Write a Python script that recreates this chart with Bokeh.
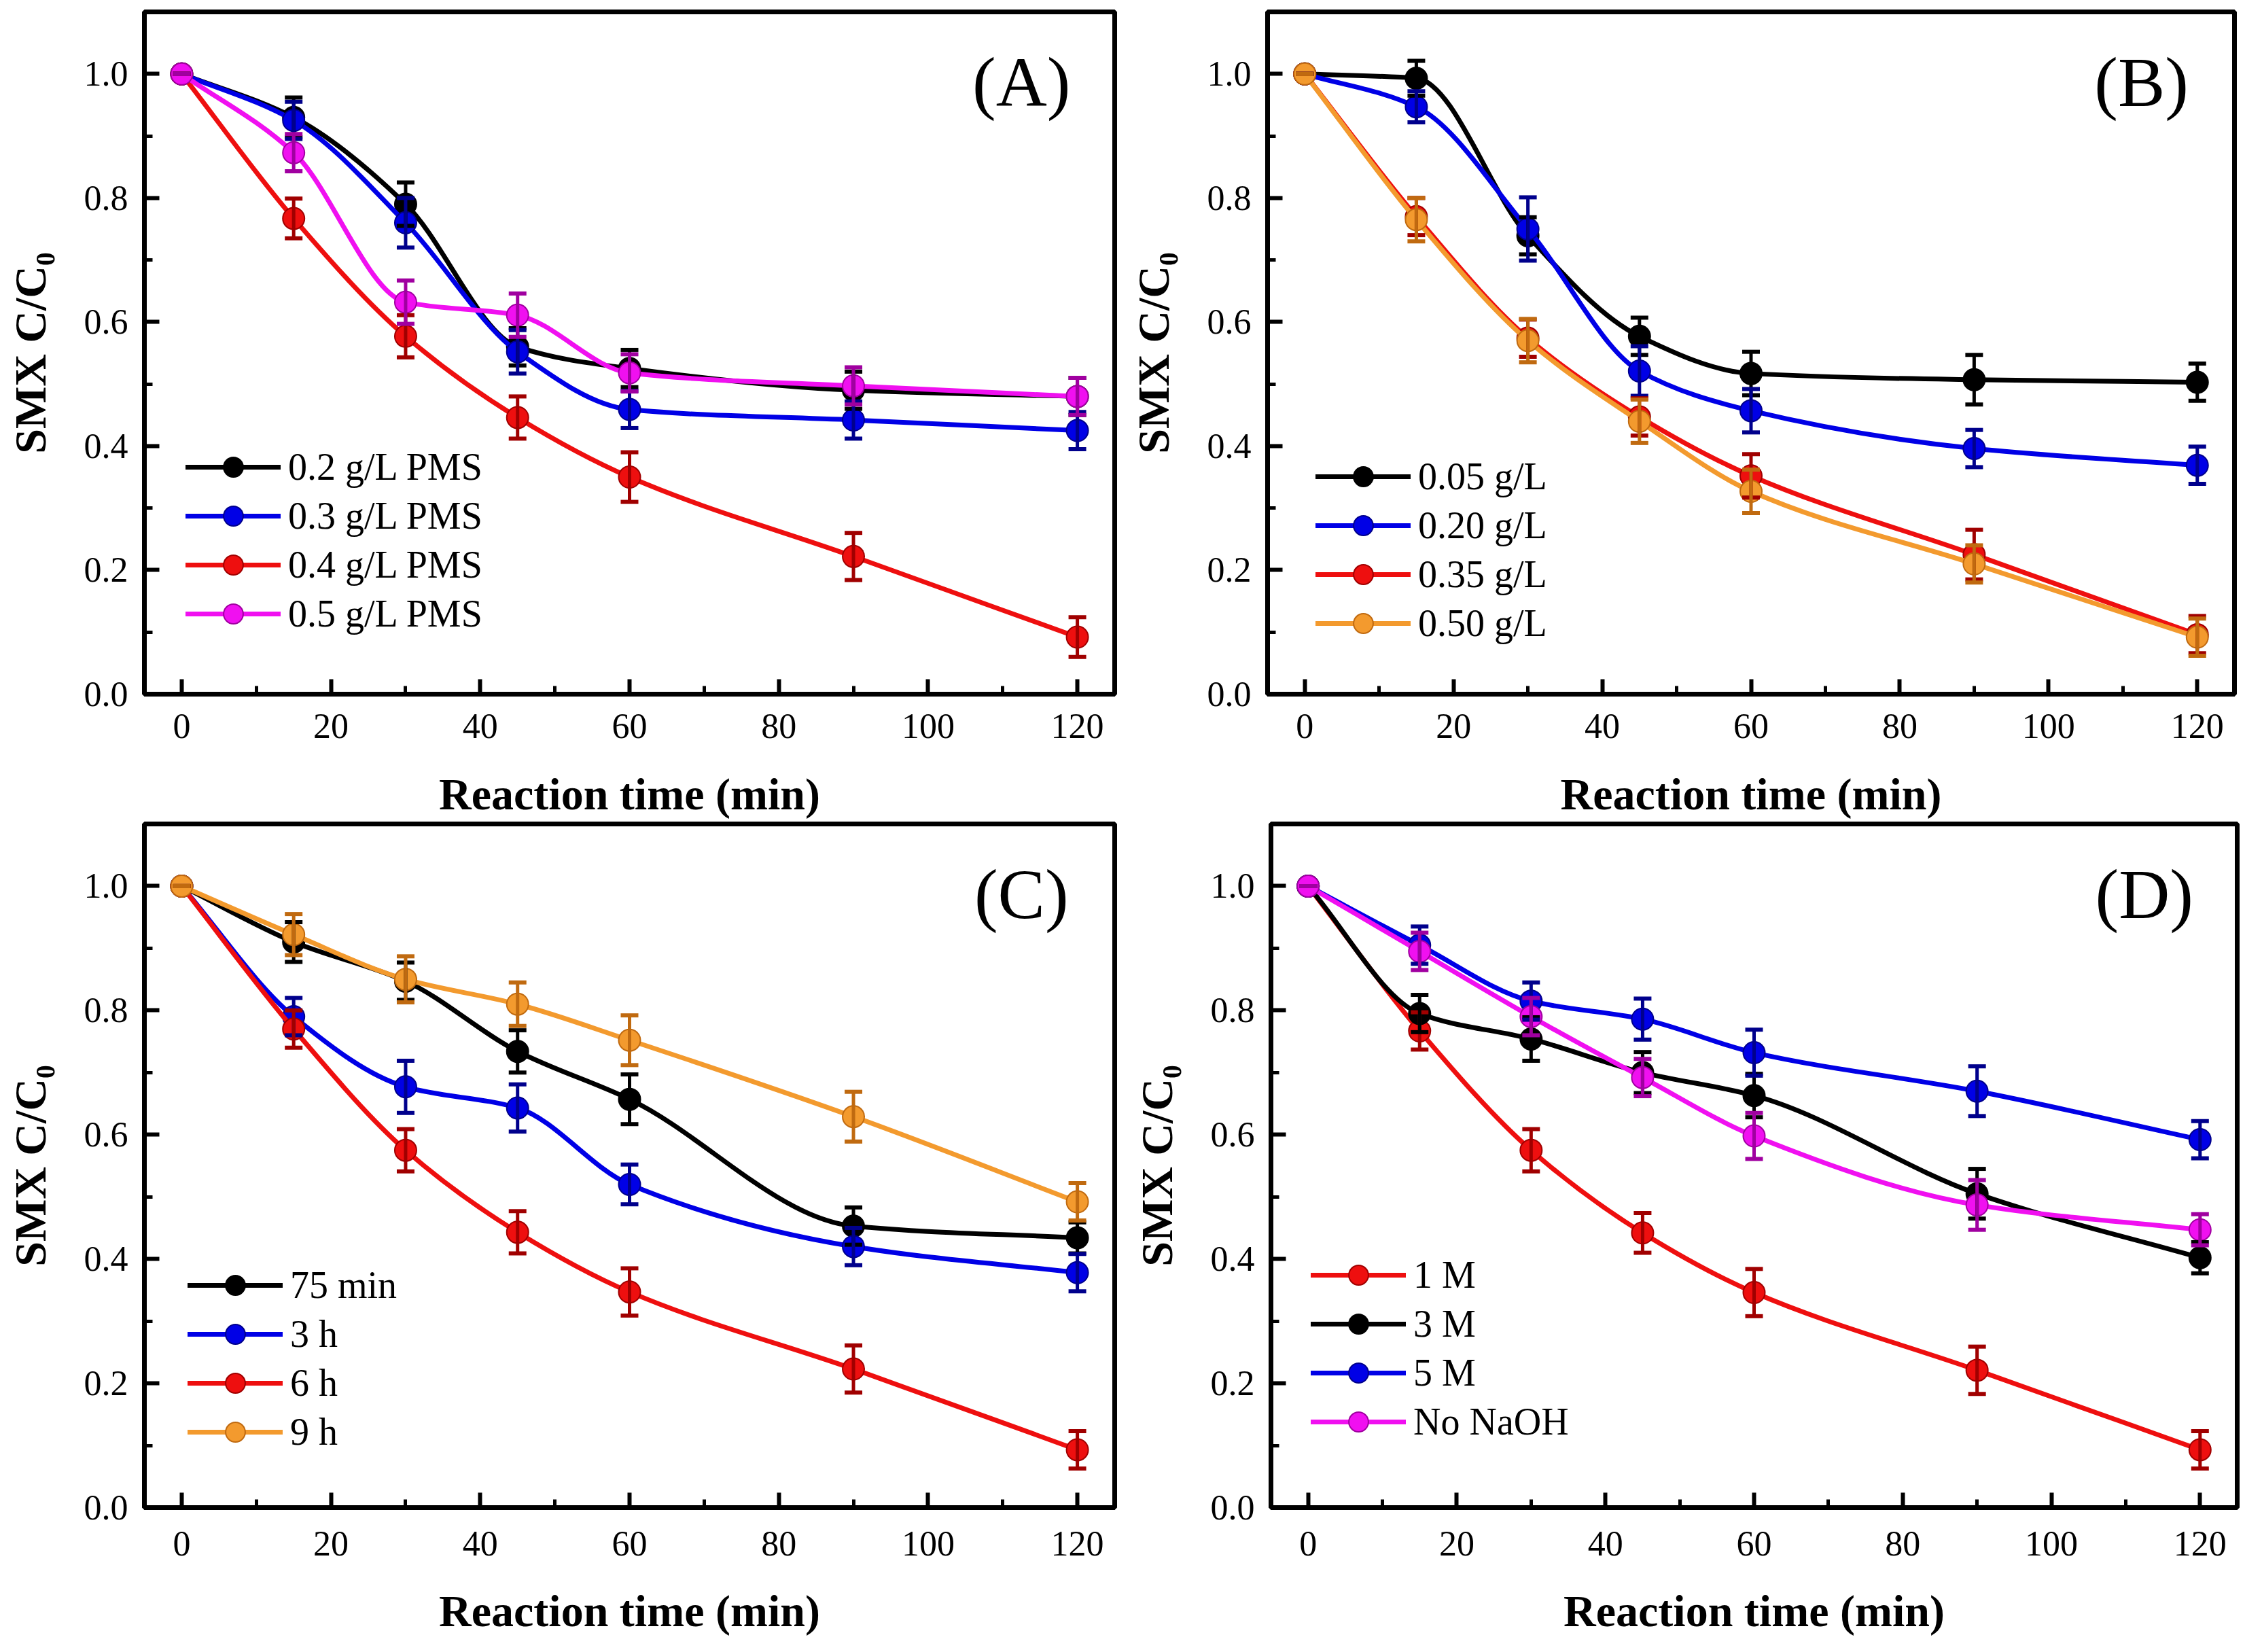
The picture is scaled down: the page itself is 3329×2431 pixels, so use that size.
from bokeh.plotting import figure
from bokeh.models import (Range1d, SingleIntervalTicker, PrintfTickFormatter, Whisker,
                          TeeHead, ColumnDataSource, Legend, LegendItem, Label)
from bokeh.layouts import column, row
from bokeh.embed import file_html
from bokeh.resources import INLINE

# ---------------- data ----------------
time = [0, 15, 30, 45, 60, 90, 120]

# Panel A : PMS dosage
a_labels = ["0.2 g/L PMS", "0.3 g/L PMS", "0.4 g/L PMS", "0.5 g/L PMS"]
a_y = [
    [1.0, 0.93, 0.79, 0.56, 0.525, 0.49, 0.48],
    [1.0, 0.925, 0.76, 0.552, 0.459, 0.442, 0.425],
    [1.0, 0.767, 0.577, 0.446, 0.350, 0.222, 0.092],
    [1.0, 0.873, 0.632, 0.611, 0.518, 0.497, 0.480],
]
a_err = [
    [0, 0.032, 0.035, 0.030, 0.030, 0.030, 0.030],
    [0, 0.030, 0.040, 0.035, 0.030, 0.030, 0.030],
    [0, 0.032, 0.034, 0.034, 0.040, 0.038, 0.032],
    [0, 0.030, 0.035, 0.035, 0.030, 0.030, 0.030],
]

# Panel B : catalyst dosage
b_labels = ["0.05 g/L", "0.20 g/L", "0.35 g/L", "0.50 g/L"]
b_y = [
    [1.0, 0.993, 0.739, 0.577, 0.517, 0.507, 0.503],
    [1.0, 0.947, 0.750, 0.521, 0.457, 0.396, 0.369],
    [1.0, 0.770, 0.574, 0.447, 0.352, 0.225, 0.096],
    [1.0, 0.765, 0.570, 0.440, 0.327, 0.210, 0.092],
]
b_err = [
    [0, 0.028, 0.030, 0.030, 0.035, 0.040, 0.030],
    [0, 0.025, 0.051, 0.040, 0.035, 0.030, 0.030],
    [0, 0.030, 0.030, 0.030, 0.035, 0.040, 0.030],
    [0, 0.035, 0.035, 0.035, 0.035, 0.030, 0.030],
]

# Panel C : calcination time
c_labels = ["75 min", "3 h", "6 h", "9 h"]
c_y = [
    [1.0, 0.910, 0.847, 0.734, 0.657, 0.453, 0.434],
    [1.0, 0.790, 0.677, 0.643, 0.520, 0.420, 0.378],
    [1.0, 0.770, 0.575, 0.443, 0.347, 0.223, 0.093],
    [1.0, 0.922, 0.850, 0.810, 0.752, 0.629, 0.492],
]
c_err = [
    [0, 0.032, 0.030, 0.034, 0.040, 0.030, 0.025],
    [0, 0.030, 0.042, 0.038, 0.032, 0.030, 0.030],
    [0, 0.030, 0.034, 0.034, 0.038, 0.038, 0.030],
    [0, 0.033, 0.037, 0.035, 0.040, 0.040, 0.030],
]

# Panel D : NaOH concentration
d_labels = ["1 M", "3 M", "5 M", "No NaOH"]
d_y = [
    [1.0, 0.767, 0.575, 0.442, 0.346, 0.221, 0.093],
    [1.0, 0.795, 0.754, 0.700, 0.663, 0.505, 0.402],
    [1.0, 0.905, 0.815, 0.786, 0.732, 0.670, 0.592],
    [1.0, 0.895, 0.790, 0.692, 0.598, 0.487, 0.447],
]
d_err = [
    [0, 0.030, 0.034, 0.032, 0.038, 0.038, 0.030],
    [0, 0.030, 0.035, 0.033, 0.035, 0.040, 0.025],
    [0, 0.030, 0.030, 0.033, 0.037, 0.040, 0.030],
    [0, 0.030, 0.030, 0.030, 0.037, 0.040, 0.025],
]

BLACK = ("#000000", "#000000")
BLUE = ("#0000E6", "#00008C")
RED = ("#EE0F0F", "#A00000")
MAGENTA = ("#F010F0", "#A000A0")
ORANGE = ("#F39A2E", "#C06A10")

a_colors = [BLACK, BLUE, RED, MAGENTA]
b_colors = [BLACK, BLUE, RED, ORANGE]
c_colors = [BLACK, BLUE, RED, ORANGE]
d_colors = [RED, BLACK, BLUE, MAGENTA]

FONT = "Liberation Serif"


def bezier_segments(x, y):
    """Monotone cubic (Fritsch-Butland) tangents -> cubic Bezier control points."""
    n = len(x)
    h = [x[k + 1] - x[k] for k in range(n - 1)]
    d = [(y[k + 1] - y[k]) / h[k] for k in range(n - 1)]
    m = [0.0] * n
    m[0] = d[0]
    m[-1] = d[-1]
    for k in range(1, n - 1):
        if d[k - 1] * d[k] <= 0:
            m[k] = 0.0
        else:
            w1 = 2 * h[k] + h[k - 1]
            w2 = h[k] + 2 * h[k - 1]
            m[k] = (w1 + w2) / (w1 / d[k - 1] + w2 / d[k])
    seg = dict(x0=[], y0=[], x1=[], y1=[], cx0=[], cy0=[], cx1=[], cy1=[])
    for k in range(n - 1):
        seg["x0"].append(x[k]); seg["y0"].append(y[k])
        seg["x1"].append(x[k + 1]); seg["y1"].append(y[k + 1])
        seg["cx0"].append(x[k] + h[k] / 3); seg["cy0"].append(y[k] + m[k] * h[k] / 3)
        seg["cx1"].append(x[k + 1] - h[k] / 3); seg["cy1"].append(y[k + 1] - m[k + 1] * h[k] / 3)
    return seg


def make_panel(tag, labels, ys, errs, colors, width, height, borders, legend_loc, standoffs):
    bl, br, bt, bb = borders
    p = figure(width=width, height=height, output_backend="svg", toolbar_location=None,
               x_range=Range1d(-5, 125), y_range=Range1d(0, 1.1),
               min_border_left=bl, min_border_right=br, min_border_top=bt, min_border_bottom=bb)
    p.xgrid.visible = False
    p.ygrid.visible = False
    p.outline_line_color = "black"
    p.outline_line_width = 7
    p.background_fill_color = "white"
    p.border_fill_color = "white"

    p.xaxis.ticker = SingleIntervalTicker(interval=20, num_minor_ticks=2)
    p.yaxis.ticker = SingleIntervalTicker(interval=0.2, num_minor_ticks=2)
    p.yaxis.formatter = PrintfTickFormatter(format="%.1f")
    p.xaxis.axis_label = "Reaction time (min)"
    p.yaxis.axis_label = "SMX C/C\u2080"
    for ax in (p.xaxis[0], p.yaxis[0]):
        ax.axis_line_width = 7
        ax.axis_line_color = "black"
        ax.major_tick_in = 22
        ax.major_tick_out = 0
        ax.minor_tick_in = 12
        ax.minor_tick_out = 0
        ax.major_tick_line_width = 6
        ax.minor_tick_line_width = 5
        ax.major_label_text_font = FONT
        ax.major_label_text_font_size = "52px"
        ax.major_label_text_color = "black"
        ax.axis_label_text_font = FONT
        ax.axis_label_text_font_size = "66px"
        ax.axis_label_text_font_style = "bold"
        ax.axis_label_text_color = "black"
    p.xaxis.major_label_standoff = standoffs[0]
    p.xaxis.axis_label_standoff = standoffs[1]
    p.yaxis.major_label_standoff = 24
    p.yaxis.axis_label_standoff = 40

    items = []
    for lab, yv, ev, (col, dark) in zip(labels, ys, errs, colors):
        seg = bezier_segments(time, yv)
        bz = p.bezier(source=ColumnDataSource(seg), x0="x0", y0="y0", x1="x1", y1="y1",
                      cx0="cx0", cy0="cy0", cx1="cx1", cy1="cy1",
                      line_color=col, line_width=7, line_cap="round")
        src = ColumnDataSource(dict(t=time, y=yv,
                                    up=[a + b for a, b in zip(yv, ev)],
                                    lo=[a - b for a, b in zip(yv, ev)]))
        wh = Whisker(source=src, base="t", upper="up", lower="lo", dimension="height",
                     line_color=dark, line_width=5, level="glyph",
                     upper_head=TeeHead(size=26, line_color=dark, line_width=6),
                     lower_head=TeeHead(size=26, line_color=dark, line_width=6))
        p.add_layout(wh)
        sc = p.scatter(x="t", y="y", source=src, marker="circle", size=32,
                       fill_color=col, line_color=dark, line_width=2)
        items.append(LegendItem(label=lab, renderers=[bz, sc]))

    leg = Legend(items=items, location=legend_loc, background_fill_alpha=0,
                 border_line_alpha=0, label_text_font=FONT, label_text_font_size="56px",
                 label_text_color="black", glyph_width=140, glyph_height=72,
                 label_height=72, spacing=0, label_standoff=11, padding=0, margin=0)
    p.add_layout(leg)

    p.add_layout(Label(x=112.5, y=0.987, text=tag, text_align="center",
                       text_baseline="alphabetic", text_font=FONT,
                       text_font_size="104px", text_color="black"))
    return p


pA = make_panel("(A)", a_labels, a_y, a_err, a_colors, 1657, 1208, (212, 17, 17, 187), (61, 82), (29, 43))
pB = make_panel("(B)", b_labels, b_y, b_err, b_colors, 1640, 1208, (203, 9, 17, 187), (71, 68), (29, 43))
pC = make_panel("(C)", c_labels, c_y, c_err, c_colors, 1657, 1207, (212, 17, 4, 197), (64, 75), (35, 42))
pD = make_panel("(D)", d_labels, d_y, d_err, d_colors, 1644, 1207, (213, 9, 4, 197), (59, 90), (35, 42))

layout = column(row(pA, pB), row(pC, pD))
open("out.html", "w").write(file_html(layout, INLINE))
